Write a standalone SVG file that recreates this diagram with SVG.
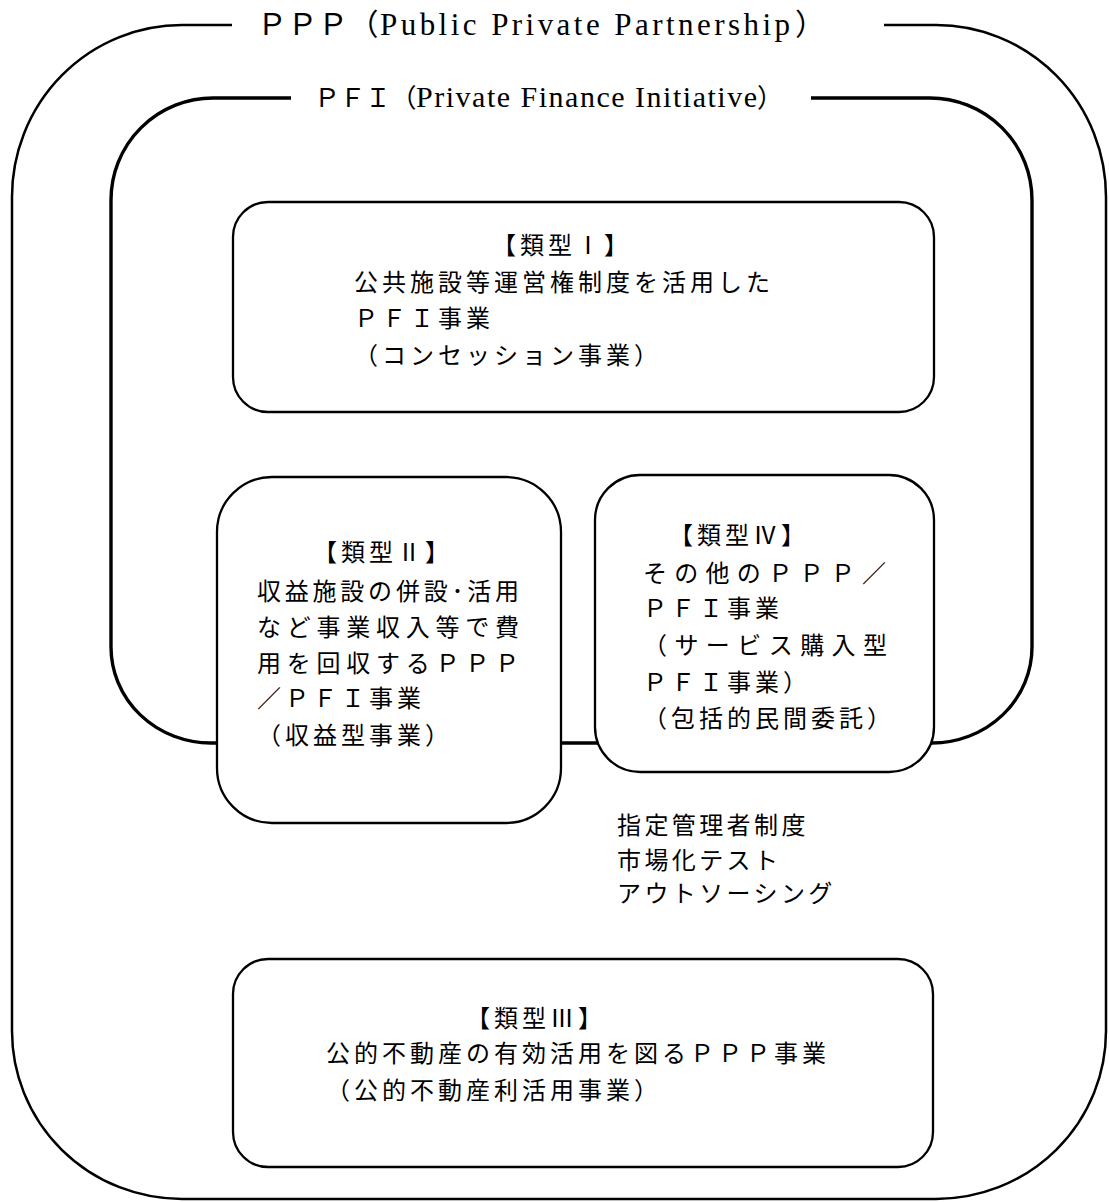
<svg xmlns="http://www.w3.org/2000/svg" width="1109" height="1202" viewBox="0 0 1109 1202">
<style>
.frame{fill:none;stroke:#000}
.ppp{stroke-width:2.5}
.pfi{stroke-width:3.4}
.box{fill:#fff;stroke:#000;stroke-width:2.3}
text{font-family:"Liberation Serif","Noto Sans CJK JP",serif;fill:#000}
.t{font-size:24px;letter-spacing:4px}
.o{font-size:24px;letter-spacing:3.4px}
</style>
<rect width="1109" height="1202" fill="#fff"/>
<g id="ppp-frame">
<path class="frame ppp" d="M232,25 H182 A170,172 0 0 0 12,197 V1031 A170,168 0 0 0 182,1199 H936 A170,168 0 0 0 1106,1031 V197 A170,172 0 0 0 936,25 H884"/>
<text y="35" font-size="30"><tspan x="257" letter-spacing="0.5">ＰＰＰ（</tspan><tspan x="380" font-size="31" textLength="410" lengthAdjust="spacing">Public Private Partnership</tspan><tspan x="795">）</tspan></text>
</g>
<g id="pfi-frame">
<path class="frame pfi" d="M291,98 H213 A102,102 0 0 0 111,200 V647 A100,96 0 0 0 211,743 H932 A100,96 0 0 0 1032,647 V200 A102,102 0 0 0 930,98 H811"/>
<text y="107" font-size="26"><tspan x="314" letter-spacing="-0.5">ＰＦＩ（</tspan><tspan x="416" font-size="30" textLength="341" lengthAdjust="spacing">Private Finance Initiative</tspan><tspan x="757">）</tspan></text>
</g>
<g id="connectors"></g>
<g id="type1">
<rect class="box" x="233" y="202" width="701" height="210" rx="35"/>
<text class="t"><tspan x="492" y="254">【類型Ⅰ】</tspan><tspan x="354" y="291">公共施設等運営権制度を活用した</tspan><tspan x="354" y="327">ＰＦＩ事業</tspan><tspan x="354" y="364">（コンセッション事業）</tspan></text>
</g>
<g id="type2">
<rect class="box" x="217" y="477" width="344" height="346" rx="55"/>
<text class="t"><tspan x="313" y="561">【類型Ⅱ】</tspan><tspan x="257" y="600" textLength="266" lengthAdjust="spacing">収益施設の併設･活用</tspan><tspan x="257" y="636" textLength="266" lengthAdjust="spacing">など事業収入等で費</tspan><tspan x="257" y="672" textLength="266" lengthAdjust="spacing">用を回収するＰＰＰ</tspan><tspan x="257" y="707">／ＰＦＩ事業</tspan><tspan x="257" y="744">（収益型事業）</tspan></text>
</g>
<g id="type4">
<rect class="box" x="595" y="475" width="339" height="297" rx="45"/>
<text class="t"><tspan x="669" y="544">【類型Ⅳ】</tspan><tspan x="643" y="582" textLength="247" lengthAdjust="spacing">その他のＰＰＰ／</tspan><tspan x="643" y="617">ＰＦＩ事業</tspan><tspan x="643" y="654" textLength="248" lengthAdjust="spacing">（サービス購入型</tspan><tspan x="643" y="691">ＰＦＩ事業）</tspan><tspan x="643" y="727">（包括的民間委託）</tspan></text>
</g>
<g id="type3">
<rect class="box" x="233" y="959" width="700" height="208" rx="35"/>
<text class="t"><tspan x="466" y="1027">【類型Ⅲ】</tspan><tspan x="326" y="1062">公的不動産の有効活用を図るＰＰＰ事業</tspan><tspan x="326" y="1099">（公的不動産利活用事業）</tspan></text>
</g>
<g id="other-methods">
<text class="o"><tspan x="617" y="834">指定管理者制度</tspan><tspan x="617" y="869">市場化テスト</tspan><tspan x="617" y="902">アウトソーシング</tspan></text>
</g>
</svg>
